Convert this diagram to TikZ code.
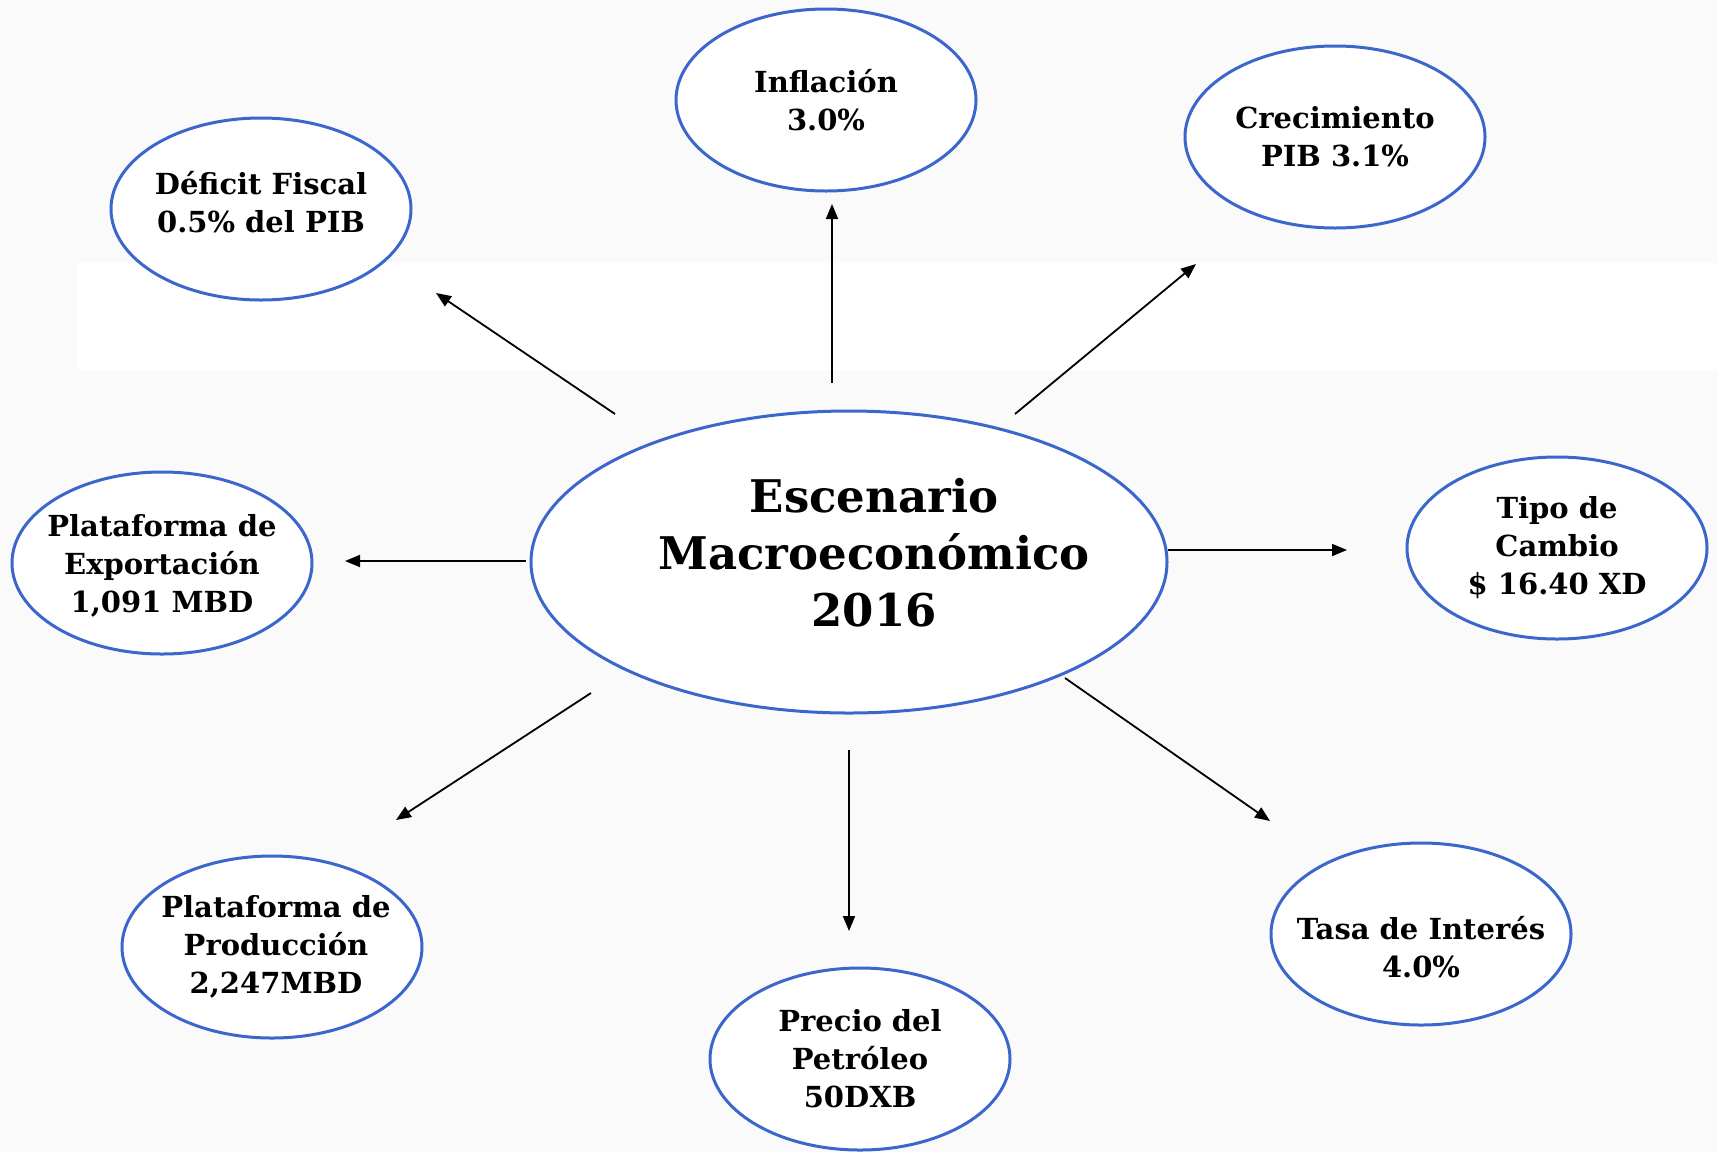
\documentclass[tikz,border=0pt]{standalone}
\usepackage{fontspec}
\setmainfont{DejaVu Serif}
\usetikzlibrary{arrows.meta}
\definecolor{ovalblue}{RGB}{59,103,204}
\definecolor{fondo}{RGB}{250,250,250}
\tikzset{
  oval/.style={draw=ovalblue, line width=1.5pt, fill=white},
  txt/.style={align=center, inner sep=0pt, font=\bfseries\fontsize{14.5}{19}\selectfont},
  flecha/.style={-{Triangle[length=7.5pt,width=6pt]}, line width=0.9pt},
}
\begin{document}
\begin{tikzpicture}[x=0.5pt,y=-0.5pt]
    % Fondo %
    \fill[fondo] (0,0) rectangle (1717,1152);
    \fill[white] (77,263) rectangle (1717,370);
    \useasboundingbox (0,0) rectangle (1717,1152);

    % Escenario %
    \draw[oval] (849,562) ellipse [x radius=159pt, y radius=75.5pt]
        node[txt, xshift=12.5pt, yshift=4.5pt, font=\bfseries\fontsize{22.5}{28.5}\selectfont] (esc) {Escenario\\Macroeconómico\\2016};

    % Variables %
    \draw[oval] (826,100) ellipse [x radius=75pt, y radius=45.5pt] node[txt] (inf) {Inflación\\3.0\%};
    \draw[oval] (1335,137) ellipse [x radius=75pt, y radius=45.5pt] node[txt] (pib) {Crecimiento\\PIB 3.1\%};
    \draw[oval] (261,209) ellipse [x radius=75pt, y radius=45.5pt] node[txt, yshift=3.5pt] (def) {Déficit Fiscal\\0.5\% del PIB};
    \draw[oval] (1557,548) ellipse [x radius=75pt, y radius=45.5pt] node[txt] (tc) {Tipo de\\Cambio\\\$ 16.40 XD};
    \draw[oval] (162,563) ellipse [x radius=75pt, y radius=45.5pt] node[txt, yshift=-1.5pt] (exp) {Plataforma de\\Exportación\\1,091 MBD};
    \draw[oval] (272,947) ellipse [x radius=75pt, y radius=45.5pt] node[txt, xshift=2pt] (prod) {Plataforma de\\Producción\\2,247MBD};
    \draw[oval] (860,1059) ellipse [x radius=75pt, y radius=45.5pt] node[txt] (pet) {Precio del\\Petróleo\\50DXB};
    \draw[oval] (1421,934) ellipse [x radius=75pt, y radius=45.5pt] node[txt, yshift=-6.5pt] (tasa) {Tasa de Interés\\4.0\%};

    % Flechas %
    \coordinate (a1) at (832,383);  \coordinate (b1) at (832,204);
    \coordinate (a2) at (615,414);  \coordinate (b2) at (436,293);
    \coordinate (a3) at (1015,414); \coordinate (b3) at (1196,264);
    \coordinate (a4) at (1168,550); \coordinate (b4) at (1347,550);
    \coordinate (a5) at (526,561);  \coordinate (b5) at (345,561);
    \coordinate (a6) at (591,693);  \coordinate (b6) at (396,820);
    \coordinate (a7) at (849,750);  \coordinate (b7) at (849,931);
    \coordinate (a8) at (1065,678); \coordinate (b8) at (1270,821);
    \foreach \i in {1,...,8}
        \draw[flecha] (a\i) -- (b\i);
\end{tikzpicture}
\end{document}
